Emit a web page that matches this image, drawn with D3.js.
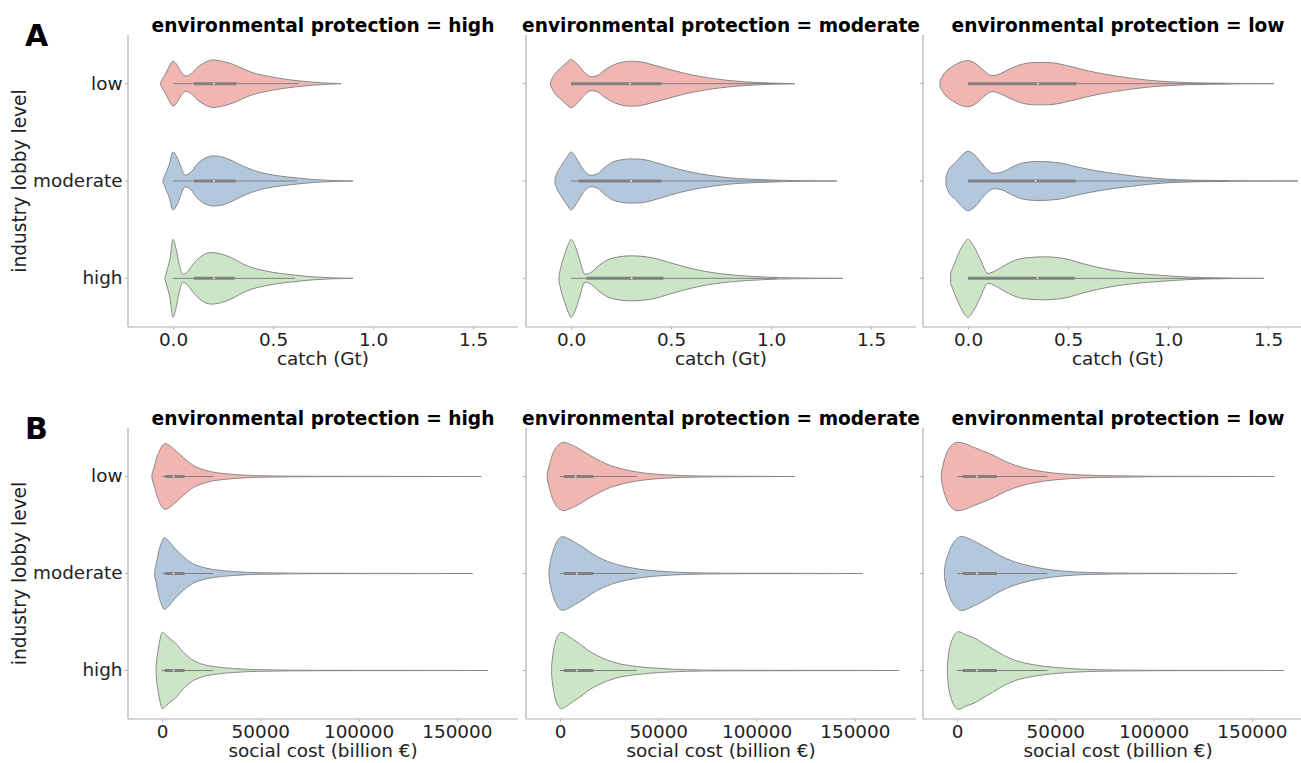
<!DOCTYPE html>
<html>
<head>
<meta charset="utf-8">
<script src="https://cdn.jsdelivr.net/npm/d3@7"></script>
<style>
body{margin:0;background:#fff}
text{font-family:"DejaVu Sans",sans-serif;fill:#222}
</style>
</head>
<body>
<svg id="chart" width="1301" height="763"></svg>
<script>
// categories
const lobbyLevels = ["low", "moderate", "high"]
const protectionLevels = ["high", "moderate", "low"]
const fillColors = ["#f1b6b2", "#b3c8dd", "#cce5c7"]

const catchTicks = [0, 0.5, 1.0, 1.5]
const costTicks = [0, 50000, 100000, 150000]

// violin outlines: [value, density] per lobby level (low, moderate, high)
const catchProtHigh = [
  [[-0.062,1],[-0.055,4],[-0.04,9],[-0.02,17],[0,22.7],[0.02,19],[0.04,12],[0.065,7.7],[0.09,10],[0.12,16],[0.16,21.5],[0.2,24],[0.25,22.5],[0.3,19.5],[0.35,15],[0.4,11],[0.45,8.5],[0.5,6.5],[0.6,3.5],[0.7,1.5],[0.84,0]],
  [[-0.05,1],[-0.04,6],[-0.02,16],[0,29.3],[0.02,24],[0.04,14],[0.06,6],[0.09,9],[0.12,17],[0.16,23],[0.2,25.3],[0.25,24],[0.3,20],[0.35,15],[0.4,11],[0.45,8],[0.5,6],[0.6,3.5],[0.7,1.5],[0.9,0]],
  [[-0.04,1],[-0.03,8],[-0.015,20],[0,39.3],[0.015,30],[0.03,15],[0.05,4],[0.07,6],[0.1,14],[0.14,22],[0.19,26],[0.25,24],[0.3,20],[0.35,14.5],[0.4,10.5],[0.45,8],[0.5,6],[0.6,3.5],[0.7,1.5],[0.9,0]]
]
const catchProtModerate = [
  [[-0.102,2],[-0.095,5],[-0.08,10],[-0.05,16],[-0.02,21.5],[0,24.3],[0.03,20],[0.06,13],[0.1,7],[0.13,8],[0.17,14],[0.22,19.5],[0.3,22.7],[0.35,22],[0.4,19.5],[0.5,14],[0.6,9],[0.7,5.5],[0.8,3],[0.9,1.5],[1.0,0.6],[1.12,0]],
  [[-0.08,3],[-0.07,8],[-0.05,15],[-0.02,24],[0,29.3],[0.03,22],[0.06,12],[0.1,5.7],[0.13,7],[0.17,14],[0.22,20],[0.3,22.3],[0.35,22],[0.4,20],[0.5,14],[0.6,9],[0.7,5.5],[0.8,3],[0.9,1.8],[1.0,1],[1.1,0.5],[1.33,0]],
  [[-0.06,3],[-0.05,12],[-0.03,25],[-0.01,36],[0,39.3],[0.02,33],[0.04,21],[0.07,4],[0.1,6],[0.14,13],[0.2,20],[0.3,22.7],[0.4,21],[0.5,15.5],[0.6,10],[0.7,6],[0.8,3.5],[0.9,2],[1.0,1],[1.1,0.5],[1.36,0]]
]
const catchProtLow = [
  [[-0.14,3],[-0.12,10],[-0.08,17],[-0.04,21.5],[0,23.3],[0.04,20],[0.08,13],[0.12,8],[0.16,10],[0.2,14],[0.26,19],[0.33,21.3],[0.4,21.3],[0.5,18],[0.6,13],[0.7,9],[0.8,6],[0.9,3.5],[1.0,2],[1.1,1],[1.2,0.6],[1.53,0]],
  [[-0.11,4],[-0.1,10],[-0.06,19],[-0.03,26],[0,30],[0.04,25],[0.08,15],[0.13,7.7],[0.17,9],[0.22,14],[0.28,18.5],[0.35,19.7],[0.45,18.5],[0.55,14],[0.65,10],[0.75,7],[0.85,4.5],[0.95,2.5],[1.05,1.3],[1.15,0.7],[1.65,0]],
  [[-0.087,5],[-0.07,14],[-0.04,28],[-0.015,37],[0,39.3],[0.03,32],[0.06,20],[0.1,5],[0.14,8],[0.2,15],[0.28,20.5],[0.38,21.7],[0.48,20],[0.58,14.5],[0.7,9],[0.8,6],[0.9,4],[1.0,2.5],[1.1,1.3],[1.2,0.6],[1.48,0]]
]
const costProtHigh = [
  [[-5100,2],[-4200,8],[-2500,20],[-850,28],[1350,33.3],[3400,32],[5900,28],[9300,22],[12700,16],[16100,11],[19500,8],[24600,5],[33000,2.7],[43000,1.3],[53400,0.6],[80000,0.2],[162400,0]],
  [[-3700,3],[-2900,10],[-1700,22],[-340,31],[1200,36.3],[3400,33],[5900,27],[9300,20],[12700,14],[16100,9.5],[19500,7],[26300,4],[36400,2],[50000,0.8],[80000,0.2],[158000,0]],
  [[-3000,5],[-2500,14],[-1350,28],[170,38.7],[2500,35],[4200,32],[6800,28],[9300,22],[12700,15],[16100,10],[19500,7],[26300,4],[36400,2],[50000,0.8],[80000,0.2],[165800,0]]
]
const costProtModerate = [
  [[-6500,3],[-5600,10],[-3900,22],[-1360,31],[2040,34.7],[4600,33],[8000,30],[11400,26],[15600,21],[20700,15.5],[25800,11],[30900,8],[37700,5],[48000,2.5],[61500,1],[80000,0.3],[119300,0]],
  [[-5600,3],[-5100,10],[-3900,20],[-2200,30],[1200,37.3],[4600,35],[8000,31],[12200,26],[16500,20],[21600,14.5],[26700,10.5],[32600,7.3],[39400,4.7],[49600,2.5],[63200,1],[85000,0.3],[153900,0]],
  [[-4250,5],[-3700,15],[-2200,30],[700,38.7],[3700,35.5],[6300,32],[9700,27.5],[13900,21],[19000,15],[24100,10.5],[30900,6.5],[39400,4],[51300,2],[64900,0.8],[85000,0.3],[172500,0]]
]
const costProtLow = [
  [[-8000,3],[-7300,10],[-5600,22],[-3050,31],[340,34.7],[3700,33.5],[8000,30],[13000,26],[19000,21],[24900,15],[31700,10],[40200,6],[50300,3.3],[63900,1.5],[80900,0.7],[100000,0.2],[161400,0]],
  [[-6400,3],[-5900,10],[-4400,20],[-2200,30],[2500,37.5],[6300,35],[10500,31],[15600,25.5],[21500,18.5],[28300,12.5],[35100,8.5],[43600,5],[53700,2.5],[67300,1],[90000,0.3],[142400,0]],
  [[-4900,5],[-4400,15],[-3050,28],[680,39.3],[4600,36],[8800,33],[13000,28],[18100,22],[24100,15],[30000,10],[38500,6],[50300,3],[63900,1.3],[80900,0.5],[100000,0.2],[166400,0]]
]

// inner box: [whisker low, q1, median, q3, whisker high]
const catchBoxHigh = [[0,0.105,0.205,0.317,0.63],[0,0.105,0.205,0.313,0.62],[0,0.105,0.205,0.308,0.61]]
const catchBoxModerate = [[0,0,0.295,0.453,1.1],[0,0.037,0.3,0.453,1.05],[0,0.078,0.303,0.462,1.03]]
const catchBoxLow = [[0,0,0.35,0.542,1.3],[0,0,0.338,0.538,1.3],[0,0,0.347,0.533,1.3]]
const costBoxHigh = [[0,1700,5900,11500,26000],[0,1700,5900,11500,26000],[0,1350,5900,11500,26000]]
const costBoxModerate = [[0,2040,8000,17000,39000],[0,2040,8500,17000,39000],[0,2040,8500,17000,39000]]
const costBoxLow = [[0,2900,10200,20300,46000],[0,2900,10200,20300,46000],[0,2900,10200,20300,46000]]

const panelLeft = [128, 526, 923]
const panelW = 390
const rows = [
  {top: 35, bottom: 327, domain: [-0.225, 1.725], ticks: catchTicks, fmt: d3.format(".1f"),
   label: "catch (Gt)", letter: "A", profiles: [catchProtHigh, catchProtModerate, catchProtLow],
   boxes: [catchBoxHigh, catchBoxModerate, catchBoxLow]},
  {top: 428, bottom: 719, domain: [-17300, 181100], ticks: costTicks, fmt: d3.format("d"),
   label: "social cost (billion €)", letter: "B", profiles: [costProtHigh, costProtModerate, costProtLow],
   boxes: [costBoxHigh, costBoxModerate, costBoxLow]}
]

const svg = d3.select("#chart")
const spineColor = "#b0b0b0"
const lineGray = "#8a8a8a"
const fs = 18.4

rows.forEach(row => {
  const yScale = d3.scaleBand().domain(lobbyLevels).range([row.top, row.bottom])
  const wScale = d3.scaleLinear().domain([0, 39.3]).range([0, yScale.bandwidth() * 0.4])

  svg.append("text")
    .attr("x", 25).attr("y", row.top + 11)
    .attr("font-size", 30).attr("font-weight", "bold")
    .style("fill", "#000")
    .text(row.letter)

  svg.append("text")
    .attr("transform", `translate(26,${(row.top + row.bottom) / 2}) rotate(-90)`)
    .attr("text-anchor", "middle")
    .attr("font-size", 18.6)
    .text("industry lobby level")

  protectionLevels.forEach((prot, p) => {
    const x0 = panelLeft[p]
    const xScale = d3.scaleLinear().domain(row.domain).range([x0, x0 + panelW])
    const g = svg.append("g")

    g.append("text")
      .attr("x", x0 + panelW / 2).attr("y", row.top - 3)
      .attr("text-anchor", "middle")
      .attr("font-size", 18.6).attr("font-weight", "bold")
      .style("fill", "#000")
      .text("environmental protection = " + prot)

    const area = d3.area()
      .x(d => xScale(d[0]))
      .y0(d => -wScale(d[1]))
      .y1(d => wScale(d[1]))
      .curve(d3.curveMonotoneX)

    const violins = g.selectAll(".violin")
      .data(lobbyLevels)
      .enter()
      .append("g")
      .attr("transform", d => `translate(0,${yScale(d) + yScale.bandwidth() / 2})`)

    violins.append("path")
      .attr("d", (d, i) => area(row.profiles[p][i]))
      .style("fill", (d, i) => fillColors[i])
      .style("stroke", lineGray)
      .style("stroke-width", 1)

    // whisker
    violins.append("line")
      .attr("x1", (d, i) => xScale(row.boxes[p][i][0]))
      .attr("x2", (d, i) => xScale(row.boxes[p][i][4]))
      .style("stroke", "#808080").style("stroke-width", 1)
    // box
    violins.append("line")
      .attr("x1", (d, i) => xScale(row.boxes[p][i][1]))
      .attr("x2", (d, i) => xScale(row.boxes[p][i][3]))
      .style("stroke", "#808080").style("stroke-width", 3)
    // median
    violins.append("circle")
      .attr("cx", (d, i) => xScale(row.boxes[p][i][2]))
      .attr("r", 1)
      .style("fill", "#e6e6e6").style("stroke", "none")

    // x axis
    const xAxis = d3.axisBottom(xScale)
      .tickValues(row.ticks)
      .tickFormat(row.fmt)
      .tickSize(2.5)
      .tickPadding(3)
    const ax = g.append("g")
      .attr("transform", `translate(0,${row.bottom})`)
      .call(xAxis)
    ax.select(".domain").remove()
    ax.selectAll(".tick line").style("stroke", spineColor)
    ax.selectAll(".tick text").attr("font-size", fs).style("font-family", "DejaVu Sans").style("fill", "#222")

    // y axis
    const yAxis = d3.axisLeft(yScale).tickSize(3).tickPadding(2.5)
    const ay = g.append("g")
      .attr("transform", `translate(${x0},0)`)
      .call(yAxis)
    ay.select(".domain").remove()
    ay.selectAll(".tick line").style("stroke", spineColor)
    ay.selectAll(".tick text").attr("font-size", fs).style("font-family", "DejaVu Sans").style("fill", "#222")
    if (p > 0) ay.selectAll(".tick text").remove()

    // spines
    g.append("line")
      .attr("x1", x0).attr("x2", x0).attr("y1", row.top).attr("y2", row.bottom)
      .style("stroke", spineColor).style("stroke-width", 1.2)
    g.append("line")
      .attr("x1", x0).attr("x2", x0 + panelW).attr("y1", row.bottom).attr("y2", row.bottom)
      .style("stroke", spineColor).style("stroke-width", 1.2)

    g.append("text")
      .attr("x", x0 + panelW / 2).attr("y", row.bottom + 38)
      .attr("text-anchor", "middle")
      .attr("font-size", fs)
      .text(row.label)
  })
})
</script>
</body>
</html>
